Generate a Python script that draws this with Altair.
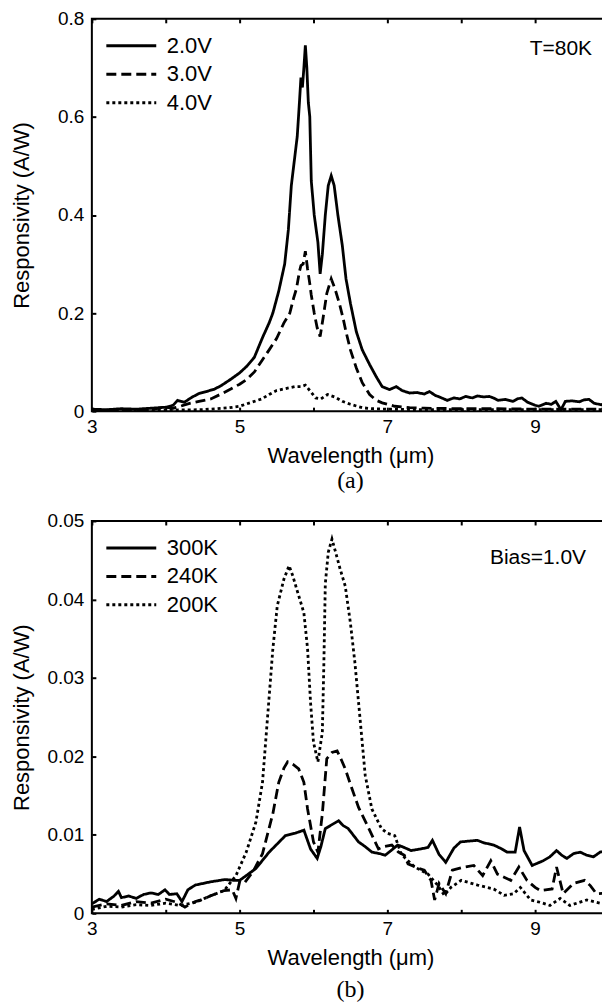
import altair as alt
import pandas as pd

# ---------------- Panel (a): T = 80 K ----------------
wl_2v = [3.0, 3.2, 3.4, 3.6, 3.8, 4.0, 4.1, 4.16, 4.25, 4.35, 4.45, 4.55, 4.66, 4.75, 4.88, 5.0, 5.1, 5.2,
         5.31, 5.4, 5.45, 5.53, 5.61, 5.66, 5.70, 5.74, 5.78, 5.81, 5.83, 5.85, 5.87, 5.89, 5.91, 5.93, 5.95,
         5.97, 6.01, 6.06, 6.09, 6.12, 6.16, 6.20, 6.24, 6.28, 6.33, 6.39, 6.44, 6.50, 6.58, 6.66, 6.76, 6.85,
         6.93, 7.03, 7.12, 7.2, 7.3, 7.4, 7.5, 7.57, 7.65, 7.72, 7.81, 7.9, 7.98, 8.06, 8.15, 8.22, 8.3, 8.38,
         8.45, 8.5, 8.6, 8.7, 8.76, 8.82, 8.9, 9.0, 9.05, 9.15, 9.22, 9.28, 9.35, 9.41, 9.5, 9.6, 9.66, 9.73,
         9.8, 9.9, 10.0]
r_2v = [0.004, 0.003, 0.005, 0.004, 0.006, 0.008, 0.012, 0.022, 0.018, 0.028, 0.036, 0.040, 0.045, 0.052,
        0.065, 0.078, 0.092, 0.110, 0.150, 0.180, 0.200, 0.245, 0.300, 0.370, 0.460, 0.510, 0.560, 0.630,
        0.680, 0.660, 0.700, 0.746, 0.700, 0.630, 0.600, 0.470, 0.400, 0.344, 0.280, 0.320, 0.400, 0.460,
        0.480, 0.460, 0.400, 0.338, 0.270, 0.220, 0.162, 0.125, 0.095, 0.070, 0.050, 0.044, 0.050, 0.042,
        0.037, 0.038, 0.035, 0.040, 0.032, 0.028, 0.022, 0.027, 0.025, 0.030, 0.027, 0.031, 0.029, 0.030,
        0.026, 0.022, 0.024, 0.020, 0.025, 0.027, 0.018, 0.012, 0.010, 0.016, 0.014, 0.020, 0.003, 0.020,
        0.021, 0.019, 0.023, 0.024, 0.016, 0.013, 0.020]

wl_3v = [3.0, 3.5, 3.8, 3.98, 4.1, 4.2, 4.3, 4.45, 4.61, 4.75, 4.88, 5.0, 5.1, 5.2, 5.31, 5.4, 5.5, 5.6,
         5.68, 5.73, 5.77, 5.81, 5.83, 5.86, 5.89, 5.92, 5.95, 5.97, 6.01, 6.05, 6.09, 6.13, 6.18, 6.24,
         6.29, 6.35, 6.40, 6.44, 6.5, 6.58, 6.66, 6.76, 6.85, 6.93, 7.1, 7.3, 7.5, 8.0, 8.5, 9.0, 9.5, 10.0]
r_3v = [0.002, 0.002, 0.003, 0.008, 0.006, 0.010, 0.015, 0.020, 0.025, 0.035, 0.045, 0.055, 0.065, 0.080,
        0.105, 0.125, 0.148, 0.180, 0.200, 0.230, 0.250, 0.285, 0.297, 0.300, 0.326, 0.290, 0.260, 0.237,
        0.200, 0.170, 0.152, 0.190, 0.240, 0.270, 0.250, 0.220, 0.190, 0.162, 0.125, 0.088, 0.058, 0.034,
        0.022, 0.017, 0.010, 0.007, 0.006, 0.005, 0.005, 0.004, 0.004, 0.004]

wl_4v = [3.0, 4.0, 4.5, 4.86, 5.0, 5.14, 5.3, 5.4, 5.5, 5.65, 5.75, 5.83, 5.89, 5.95, 6.03, 6.1, 6.19, 6.3,
         6.39, 6.5, 6.66, 6.8, 7.0, 7.5, 8.0, 9.0, 10.0]
r_4v = [0.001, 0.002, 0.003, 0.007, 0.010, 0.017, 0.025, 0.034, 0.042, 0.047, 0.050, 0.050, 0.053, 0.042,
        0.027, 0.025, 0.034, 0.028, 0.020, 0.014, 0.007, 0.005, 0.004, 0.003, 0.003, 0.003, 0.003]

# ---------------- Panel (b): Bias = 1.0 V ----------------
wl_300k = [3.0, 3.1, 3.2, 3.3, 3.36, 3.4, 3.5, 3.6, 3.7, 3.8, 3.9, 3.99, 4.05, 4.15, 4.22, 4.3, 4.4, 4.6,
           4.8, 4.93, 5.0, 5.22, 5.4, 5.62, 5.75, 5.87, 5.96, 6.05, 6.1, 6.16, 6.25, 6.34, 6.4, 6.47, 6.61,
           6.7, 6.79, 6.9, 6.97, 7.05, 7.14, 7.2, 7.32, 7.45, 7.55, 7.61, 7.7, 7.79, 7.9, 7.99, 8.1, 8.22,
           8.3, 8.44, 8.55, 8.62, 8.73, 8.79, 8.85, 8.96, 9.11, 9.2, 9.29, 9.36, 9.43, 9.52, 9.61, 9.7,
           9.79, 9.88, 10.0]
r_300k = [0.0012, 0.0018, 0.0015, 0.0022, 0.0028, 0.0020, 0.0022, 0.0019, 0.0024, 0.0026, 0.0024, 0.0030,
          0.0024, 0.0025, 0.0015, 0.0030, 0.0036, 0.0040, 0.0043, 0.0042, 0.0042, 0.0057, 0.0078, 0.0099,
          0.0102, 0.0106, 0.0082, 0.0070, 0.0085, 0.0108, 0.0113, 0.0118, 0.0112, 0.0108, 0.0091, 0.0085,
          0.0078, 0.0076, 0.0074, 0.0080, 0.0087, 0.0085, 0.0080, 0.0082, 0.0084, 0.0093, 0.0075, 0.0065,
          0.0083, 0.0091, 0.0092, 0.0093, 0.0090, 0.0087, 0.0082, 0.0078, 0.0078, 0.0110, 0.0080, 0.0061,
          0.0067, 0.0072, 0.0080, 0.0074, 0.0070, 0.0076, 0.0078, 0.0074, 0.0072, 0.0078, 0.0080]

wl_240k = [3.0, 3.2, 3.4, 3.6, 3.8, 4.0, 4.15, 4.26, 4.4, 4.48, 4.6, 4.79, 4.9, 4.95, 5.0, 5.06, 5.18,
           5.31, 5.45, 5.53, 5.6, 5.65, 5.72, 5.8, 5.87, 5.92, 6.0, 6.06, 6.12, 6.18, 6.25, 6.32, 6.38,
           6.43, 6.52, 6.61, 6.74, 6.88, 6.95, 7.06, 7.15, 7.23, 7.28, 7.4, 7.5, 7.59, 7.64, 7.7, 7.79,
           7.88, 8.04, 8.17, 8.29, 8.4, 8.49, 8.58, 8.67, 8.78, 8.89, 9.0, 9.07, 9.23, 9.29, 9.38, 9.52,
           9.67, 9.75, 9.83, 10.0]
r_240k = [0.0008, 0.0012, 0.0010, 0.0015, 0.0013, 0.0018, 0.0014, 0.0008, 0.0015, 0.0017, 0.0022, 0.0029,
          0.0030, 0.0019, 0.0040, 0.0038, 0.0053, 0.0076, 0.0127, 0.0167, 0.0185, 0.0193, 0.0190, 0.0184,
          0.0167, 0.0133, 0.0091, 0.0078, 0.0127, 0.0197, 0.0205, 0.0207, 0.0195, 0.0184, 0.0159, 0.0135,
          0.0110, 0.0082, 0.0085, 0.0087, 0.0078, 0.0074, 0.0063, 0.0058, 0.0055, 0.0042, 0.0017, 0.0038,
          0.0025, 0.0055, 0.0059, 0.0061, 0.0048, 0.0067, 0.0050, 0.0046, 0.0042, 0.0059, 0.0042, 0.0033,
          0.0029, 0.0031, 0.0059, 0.0025, 0.0038, 0.0042, 0.0035, 0.0025, 0.0026]

wl_200k = [3.0, 3.2, 3.4, 3.6, 3.8, 4.0, 4.2, 4.4, 4.6, 4.79, 4.95, 5.09, 5.22, 5.31, 5.38, 5.45, 5.51,
           5.6, 5.67, 5.72, 5.78, 5.87, 5.92, 5.96, 6.0, 6.06, 6.12, 6.14, 6.16, 6.2, 6.25, 6.3, 6.36, 6.43,
           6.5, 6.56, 6.61, 6.7, 6.79, 6.92, 7.0, 7.1, 7.19, 7.37, 7.55, 7.68, 7.77, 7.86, 8.0, 8.22, 8.44,
           8.58, 8.71, 8.8, 8.94, 9.07, 9.2, 9.34, 9.47, 9.7, 9.92, 10.0]
r_200k = [0.0005, 0.0009, 0.0008, 0.0011, 0.0010, 0.0013, 0.0010, 0.0014, 0.0022, 0.0029, 0.0048, 0.0078,
          0.0116, 0.0167, 0.0252, 0.0337, 0.0392, 0.0426, 0.0443, 0.0430, 0.0411, 0.0383, 0.0337, 0.0269,
          0.0218, 0.0193, 0.0231, 0.0316, 0.0420, 0.0460, 0.0477, 0.0460, 0.0439, 0.0417, 0.0370, 0.0320,
          0.0269, 0.0176, 0.0133, 0.0108, 0.0102, 0.0099, 0.0075, 0.0059, 0.0050, 0.0036, 0.0023, 0.0033,
          0.0042, 0.0036, 0.0031, 0.0023, 0.0025, 0.0033, 0.0017, 0.0014, 0.0010, 0.0019, 0.0010, 0.0017,
          0.0012, 0.0013]

labels_a = ["2.0V", "3.0V", "4.0V"]
labels_b = ["300K", "240K", "200K"]
x_label_ticks = [3, 5, 7, 9]
x_minor_ticks = [3, 4, 5, 6, 7, 8, 9, 10]
y_ticks_a = [0, 0.2, 0.4, 0.6, 0.8]
y_ticks_b = [0, 0.01, 0.02, 0.03, 0.04, 0.05]

FONT = "Liberation Sans"
W, H = 518, 393
DASHES = [[1, 0], [10, 5], [3, 3]]


def build_df(labels, series):
    rows = []
    for lab, (wl, r) in zip(labels, series):
        for w, v in zip(wl, r):
            rows.append({"series": lab, "wl": w, "r": v})
    return pd.DataFrame(rows)


def panel(df, labels, ydom, yticks, annot, caption, cap_offset, leg_y):
    xs = alt.Scale(domain=[3, 10], nice=False, zero=False)
    ys = alt.Scale(domain=ydom, nice=False, zero=False)

    main = alt.Chart(df).mark_line(color="black", strokeWidth=2.8, clip=True).encode(
        x=alt.X("wl:Q", scale=xs, axis=alt.Axis(
            orient="bottom", values=x_label_ticks, format="d", ticks=False, domain=False,
            labelFlush=False, title="Wavelength (μm)", labelFontSize=19, titleFontSize=22,
            labelPadding=6, titlePadding=9, labelFont=FONT, titleFont=FONT)),
        y=alt.Y("r:Q", scale=ys, axis=alt.Axis(
            orient="left", values=yticks, format="~g", ticks=False, domain=False,
            title="Responsivity (A/W)", labelFontSize=19, titleFontSize=22, labelPadding=8,
            titlePadding=9, minExtent=49, maxExtent=49, labelFont=FONT, titleFont=FONT)),
        strokeDash=alt.StrokeDash("series:N", scale=alt.Scale(domain=labels, range=DASHES),
                                  legend=alt.Legend(title=None, orient="none", legendX=13, legendY=leg_y)),
        detail="series:N",
    )

    tick_axis = dict(labels=False, domain=False, ticks=True, tickSize=4, tickWidth=2,
                     tickColor="black", title=None, offset=-4, grid=False,
                     minExtent=0, maxExtent=4)
    inner_bl = alt.Chart(df).mark_line(opacity=0).encode(
        x=alt.X("wl:Q", scale=xs, axis=alt.Axis(orient="bottom", values=x_minor_ticks, **tick_axis)),
        y=alt.Y("r:Q", scale=ys, axis=alt.Axis(orient="left", values=yticks, **tick_axis)),
        detail="series:N",
    )
    inner_tr = alt.Chart(df).mark_line(opacity=0).encode(
        x=alt.X("wl:Q", scale=xs, axis=alt.Axis(orient="top", values=x_minor_ticks, **tick_axis)),
        y=alt.Y("r:Q", scale=ys, axis=alt.Axis(orient="right", values=yticks, **tick_axis)),
        detail="series:N",
    )
    note = alt.Chart(pd.DataFrame({"t": [annot[0]]})).mark_text(
        align="right", baseline="middle", fontSize=21, font=FONT, color="black"
    ).encode(text="t:N", x=alt.value(annot[1]), y=alt.value(annot[2]))

    return alt.layer(main, inner_bl, inner_tr, note).resolve_axis(
        x="independent", y="independent"
    ).properties(
        width=W, height=H,
        title=alt.TitleParams(caption, orient="bottom", font="Liberation Serif", fontSize=24,
                              fontWeight="normal", color="black", offset=cap_offset),
    )


df_a = build_df(labels_a, [(wl_2v, r_2v), (wl_3v, r_3v), (wl_4v, r_4v)])
df_b = build_df(labels_b, [(wl_300k, r_300k), (wl_240k, r_240k), (wl_200k, r_200k)])

top = panel(df_a, labels_a, [0, 0.8], y_ticks_a, ("T=80K", 501, 30), "(a)", 2.5, 17)
bottom = panel(df_b, labels_b, [0, 0.05], y_ticks_b, ("Bias=1.0V", 495, 37), "(b)", 9.5, 17)

chart = alt.vconcat(top, bottom, spacing=17).resolve_scale(
    strokeDash="independent"
).resolve_legend(strokeDash="independent").properties(
    padding={"left": 2, "top": 0, "right": -9, "bottom": 0}
).configure_view(
    stroke="black", strokeWidth=2
).configure_axis(
    labelColor="black", titleColor="black", titleFontWeight="normal", grid=False
).configure_legend(
    padding=0, clipHeight=20, rowPadding=6.5, symbolType="stroke", symbolSize=2500,
    symbolStrokeWidth=3, symbolStrokeColor="black", labelFontSize=22, labelFont=FONT,
    labelColor="black", labelOffset=9
)

chart.save("out.html", embed_options={"renderer": "svg", "actions": False})
